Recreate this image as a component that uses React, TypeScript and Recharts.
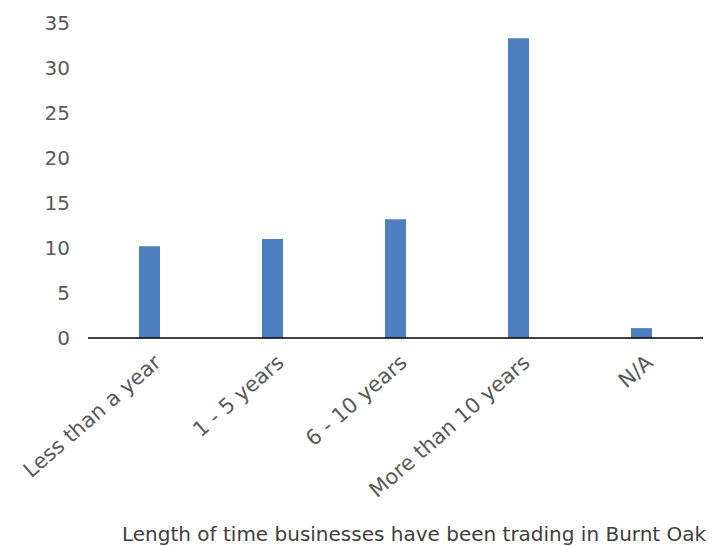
import { BarChart, Bar, XAxis, YAxis } from "recharts";

const categories = ["Less than a year", "1 - 5 years", "6 - 10 years", "More than 10 years", "N/A"];
const counts = [10.2, 11.0, 13.2, 33.3, 1.1];
const yTicks = [0, 5, 10, 15, 20, 25, 30, 35];

const data = categories.map((name, i) => ({ name, value: counts[i] }));

const FONT = "'DejaVu Sans', sans-serif";

const RotatedTick = ({ x, y, payload }: any) => (
  <g transform={`translate(${x + 8},${y + 13})`}>
    <text
      transform="rotate(-41)"
      textAnchor="end"
      fill="#595959"
      fontSize={21}
      fontFamily={FONT}
      dy="0.35em"
    >
      {payload.value}
    </text>
  </g>
);

const App = () => {
  return (
    <div style={{ position: "absolute", left: 0, top: 0, width: 716, height: 546, background: "#fff" }}>
      <BarChart
        width={716}
        height={546}
        data={data}
        margin={{ top: 23, right: 13, left: 0, bottom: 0 }}
      >
        <XAxis
          dataKey="name"
          axisLine={{ stroke: "#000", strokeWidth: 1.5 }}
          tickLine={false}
          interval={0}
          height={208}
          tick={<RotatedTick />}
        />
        <YAxis
          domain={[0, 35]}
          ticks={yTicks}
          width={88}
          axisLine={false}
          tickLine={false}
          tickSize={0}
          tickMargin={18}
          tick={{ fill: "#595959", fontSize: 20, fontFamily: FONT }}
        />
        <Bar dataKey="value" fill="#4E7FC0" barSize={21} isAnimationActive={false} />
      </BarChart>
      <div
        style={{
          position: "absolute",
          left: 122,
          top: 522,
          fontFamily: FONT,
          fontSize: 20,
          color: "#404040",
          whiteSpace: "nowrap",
          lineHeight: "24px",
        }}
      >
        Length of time businesses have been trading in Burnt Oak
      </div>
    </div>
  );
};

export default App;
